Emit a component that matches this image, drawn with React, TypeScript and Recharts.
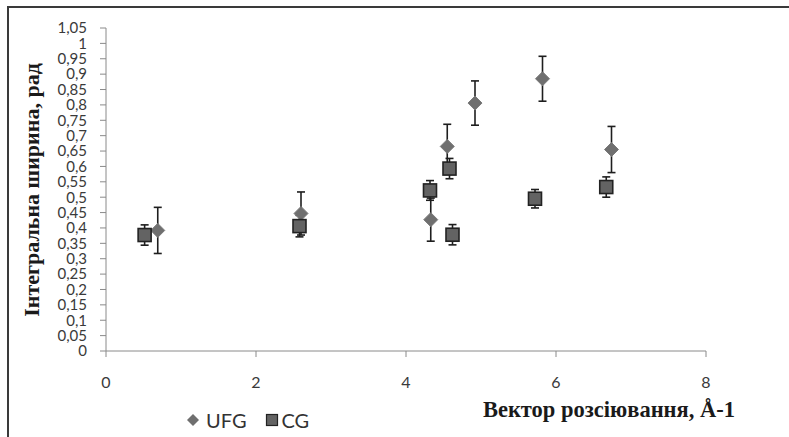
import React from 'react';
import { ScatterChart, Scatter, XAxis, YAxis, ErrorBar, Legend, Label } from 'recharts';

const ufgX = [0.69, 2.6, 4.33, 4.55, 4.92, 5.82, 6.74];
const ufgY = [0.392, 0.447, 0.427, 0.665, 0.806, 0.885, 0.655];
const ufgErr = [0.075, 0.07, 0.07, 0.072, 0.072, 0.073, 0.075];

const cgX = [0.515, 2.58, 4.32, 4.58, 4.62, 5.72, 6.67];
const cgY = [0.377, 0.406, 0.522, 0.593, 0.378, 0.495, 0.533];
const cgErr = [0.033, 0.035, 0.032, 0.033, 0.033, 0.03, 0.033];

const xTicks = [0, 2, 4, 6, 8];
const yTicks = [0, 0.05, 0.1, 0.15, 0.2, 0.25, 0.3, 0.35, 0.4, 0.45, 0.5, 0.55, 0.6, 0.65, 0.7, 0.75, 0.8, 0.85, 0.9, 0.95, 1, 1.05];
const yTickLabels = ['0', '0,05', '0,1', '0,15', '0,2', '0,25', '0,3', '0,35', '0,4', '0,45', '0,5', '0,55', '0,6', '0,65', '0,7', '0,75', '0,8', '0,85', '0,9', '0,95', '1', '1,05'];

const seriesNames = ['UFG', 'CG'];
const xTitle = 'Вектор розсіювання, Å-1';
const yTitle = 'Інтегральна ширина, рад';

const ufgData = ufgX.map((x, i) => ({ x, y: ufgY[i], err: ufgErr[i] }));
const cgData = cgX.map((x, i) => ({ x, y: cgY[i], err: cgErr[i] }));

const DIAMOND_FILL = '#6f6f6f';
const SQUARE_FILL = '#636363';
const TICK_FONT = 'Lato, "Open Sans", sans-serif';
const TITLE_FONT = '"Liberation Serif", "DejaVu Serif", serif';

const Diamond = (props: any) => {
  const { cx, cy } = props;
  const r = 7;
  return (
    <path
      d={`M${cx},${cy - r}L${cx + r},${cy}L${cx},${cy + r}L${cx - r},${cy}Z`}
      fill={DIAMOND_FILL}
      stroke="#7a7a7a"
      strokeWidth={1}
    />
  );
};

const Square = (props: any) => {
  const { cx, cy } = props;
  const s = 13;
  return (
    <rect x={cx - s / 2} y={cy - s / 2} width={s} height={s} fill={SQUARE_FILL} stroke="#222" strokeWidth={1.6} />
  );
};

const LegendContent = () => (
  <div style={{ display: 'flex', alignItems: 'center', fontFamily: TICK_FONT, fontSize: 20, color: '#333', lineHeight: '22px' }}>
    <svg width={14} height={14} style={{ marginRight: 6 }}>
      <path d="M7,1L13,7L7,13L1,7Z" fill={DIAMOND_FILL} />
    </svg>
    <span>{seriesNames[0]}</span>
    <svg width={14} height={14} style={{ marginLeft: 18, marginRight: 3 }}>
      <rect x={1.5} y={1.5} width={11} height={11} fill={SQUARE_FILL} stroke="#222" strokeWidth={1.2} />
    </svg>
    <span>{seriesNames[1]}</span>
  </div>
);

export default function App() {
  return (
    <div style={{ position: 'absolute', left: 0, top: 0, width: 789, height: 437, overflow: 'hidden', background: '#fff' }}>
      <div
        style={{
          position: 'absolute',
          left: 7,
          top: 6,
          width: 900,
          height: 600,
          borderLeft: '2px solid #3a3a3a',
          borderTop: '2px solid #3a3a3a',
        }}
      />
      <div style={{ position: 'absolute', left: 0, top: 0 }}>
        <ScatterChart width={789} height={437} margin={{ top: 28, right: 83, left: 0, bottom: 0 }}>
          <XAxis
            type="number"
            dataKey="x"
            domain={[0, 8]}
            ticks={xTicks}
            interval={0}
            height={86}
            stroke="#8a8a8a"
            tickSize={6}
            tickMargin={20}
            tick={{ fill: '#3a3a3a', fontSize: 16, fontFamily: TICK_FONT }}
          >
            <Label
              content={() => (
                <text
                  x={735}
                  y={417}
                  textAnchor="end"
                  fontFamily={TITLE_FONT}
                  fontWeight="bold"
                  fontSize={22.5}
                  fill="#1a1a1a"
                >
                  {xTitle}
                </text>
              )}
            />
          </XAxis>
          <YAxis
            type="number"
            dataKey="y"
            domain={[0, 1.05]}
            ticks={yTicks}
            interval={0}
            width={106}
            stroke="#8a8a8a"
            tickSize={6}
            tickMargin={13}
            tickFormatter={(v: number) => yTickLabels[yTicks.indexOf(v)] ?? String(v)}
            tick={{ fill: '#3a3a3a', fontSize: 15, fontFamily: TICK_FONT }}
          >
            <Label
              content={() => (
                <text
                  x={31}
                  y={190}
                  transform="rotate(-90 31 190)"
                  textAnchor="middle"
                  dominantBaseline="central"
                  fontFamily={TITLE_FONT}
                  fontWeight="bold"
                  fontSize={22}
                  fill="#1a1a1a"
                >
                  {yTitle}
                </text>
              )}
            />
          </YAxis>
          <Legend
            layout="horizontal"
            verticalAlign="middle"
            align="center"
            content={() => <LegendContent />}
            wrapperStyle={{ left: 186, top: 409, width: 'auto' }}
          />
          <Scatter name={seriesNames[0]} data={ufgData} shape={<Diamond />} isAnimationActive={false}>
            <ErrorBar dataKey="err" direction="y" width={4} stroke="#1e1e1e" strokeWidth={1.6} />
          </Scatter>
          <Scatter name={seriesNames[1]} data={cgData} shape={<Square />} isAnimationActive={false}>
            <ErrorBar dataKey="err" direction="y" width={4} stroke="#1e1e1e" strokeWidth={1.6} />
          </Scatter>
        </ScatterChart>
      </div>
    </div>
  );
}
